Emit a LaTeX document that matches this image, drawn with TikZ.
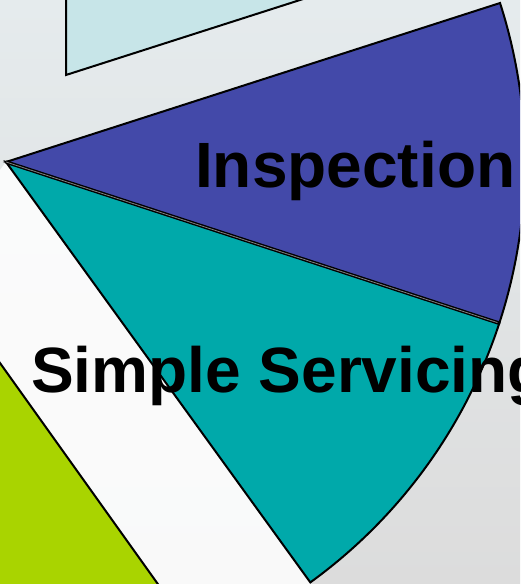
\documentclass[tikz,border=0pt]{standalone}
\usepackage{fontspec}
\setmainfont{Liberation Sans}
\begin{document}
\begin{tikzpicture}[x=1pt,y=1pt,
  wedge/.style={draw=black,line width=2pt,line join=miter},
  label/.style={font=\bfseries\fontsize{64}{64}\selectfont,text=black,inner sep=0pt,anchor=base west}]
\definecolor{slateblue}{HTML}{4349A9}
\definecolor{tealpie}{HTML}{00A9AA}
\definecolor{paleblue}{HTML}{C7E5E8}
\definecolor{limegreen}{HTML}{A9D400}
\definecolor{bgtop}{HTML}{E5EBED}
\definecolor{bgbottom}{HTML}{DCDCDC}
\useasboundingbox (0,0) rectangle (520,584);
\clip (0,0) rectangle (520,584);
% background
\shade[top color=bgtop,bottom color=bgbottom] (0,0) rectangle (520,584);
\fill[white,opacity=0.85] (0,414) -- (6,422) -- (311,0) -- (158,0) -- (0,221) -- cycle;
% pale slice at the top
\filldraw[wedge,fill=paleblue] (66,600) -- (66,509) -- (350,600) -- cycle;
% green slice at the lower left
\filldraw[wedge,fill=limegreen] (-10,235) -- (165,-10) -- (-10,-10) -- cycle;
% pie centre
\coordinate (c) at (6,422);
% teal slice
\filldraw[wedge,fill=tealpie] (c) -- ++(-18.1:519) arc[start angle=-18.1,end angle=-54.1,radius=519] -- cycle;
% blue slice
\filldraw[wedge,fill=slateblue] (c) -- ++(17.84:519) arc[start angle=17.84,end angle=-18.1,radius=519] -- cycle;
% shared edge between the two slices
\draw[black,line width=3.6pt] (c) -- ++(-18.1:519);
\draw[gray,line width=0.8pt] (c) -- ++(-18.1:517);
% labels
\node[label] (insp) at (195,396) {Inspection};
\node[label] (serv) at (31,191) {Simple Servicing};
\end{tikzpicture}
\end{document}
